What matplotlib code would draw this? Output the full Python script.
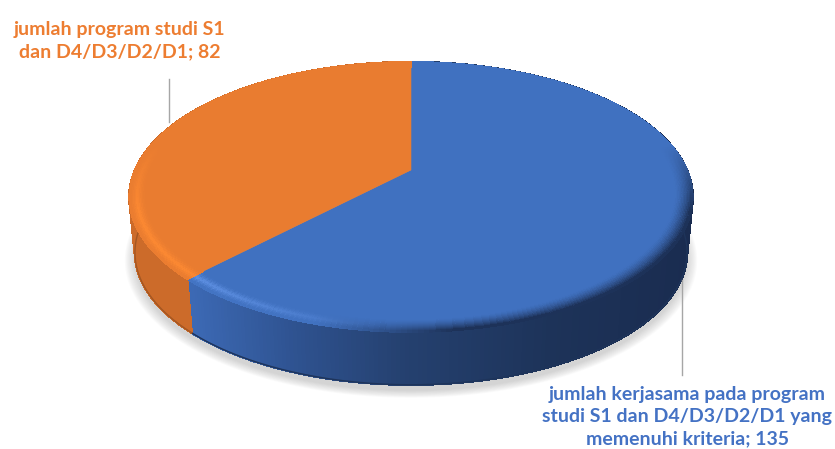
import numpy as np
import matplotlib
matplotlib.use('Agg')
import matplotlib.pyplot as plt
from matplotlib.collections import PolyCollection
from matplotlib.colors import to_rgb

# Chart data
values = [135, 82]
labels = ['jumlah kerjasama pada program\nstudi S1 dan D4/D3/D2/D1 yang\nmemenuhi kriteria; 135',
          'jumlah program studi S1\ndan D4/D3/D2/D1; 82']
colors = ['#4071c0', '#e97c30']

# Shape of the tilted pie, in pixels
cx, cy = 411, 170
rx, ry = 276, 129.6
persp = 0.2
depth = 56
base_scale = 0.98
bevel = 0.06


def project(t, r=1.0, scale=1.0, drop=0.0):
    X = r * np.sin(t)
    Y = r * np.cos(t)
    w = 1 + persp * Y
    return cx + scale * rx * X / w, cy + drop - scale * ry * Y / w


def mix(a, b, f):
    a, b = np.array(to_rgb(a)), np.array(to_rgb(b))
    return tuple(a + (b - a) * np.clip(f, 0, 1))


def side_color(i, x):
    if i == 1:
        return to_rgb('#cc6b2a')
    xs = [190, 300, 400, 550, 690]
    cols = np.array([to_rgb(c) for c in ['#3c69b4', '#2e518e', '#254170', '#1d3359', '#1a2c50']])
    return tuple(np.interp(x, xs, cols[:, k]) for k in range(3))


def rim_color(i, x, f):
    # f is 0 on the inner side of the bevel, 1 on the outer edge
    side = (x - 129) / 564
    peak = np.clip(1 - abs(f - 0.6) * 2.2, 0, 1) ** 1.5
    if i == 1:
        return mix(colors[1], '#fd8932', peak)
    glow = mix(colors[0], '#6a9cf0', 1 - side / 0.45)
    col = mix(colors[0], glow, peak)
    return mix(col, '#1b2e52', np.clip((side - 0.33) / 0.25, 0, 1) * f ** 1.5)


fig = plt.figure(figsize=(8.35, 4.49), dpi=100)
ax = fig.add_axes([0, 0, 1, 1])
ax.set_xlim(0, 835)
ax.set_ylim(449, 0)
ax.axis('off')

# Soft shadow under the pie
tt = np.linspace(0, 2 * np.pi, 240)
for grow in np.linspace(1.0, 1.035, 10):
    sx, sy = project(tt, grow, base_scale, depth + 6)
    ax.fill(sx, sy, color='#808080', alpha=0.035, lw=0, zorder=1)

# Slice angles, clockwise from the top
edges = np.concatenate([[0], np.cumsum(values)]) / sum(values) * 2 * np.pi

# Side wall
for i in range(len(values)):
    t = np.linspace(edges[i], edges[i + 1], 300)
    polys, cols = [], []
    for a, b in zip(t[:-1], t[1:]):
        x1, y1 = project(a)
        x2, y2 = project(b)
        x3, y3 = project(b, 1, base_scale, depth)
        x4, y4 = project(a, 1, base_scale, depth)
        polys.append([(x1, y1), (x2, y2), (x3, y3), (x4, y4)])
        cols.append(side_color(i, (x1 + x2) / 2))
    ax.add_collection(PolyCollection(polys, facecolors=cols, edgecolors=cols, linewidths=1.0,
                                     antialiased=False, zorder=2))
    bx, by = project(t, 1, base_scale, depth)
    ax.plot(bx, by, color=mix(side_color(i, 400), '#000000', 0.2), lw=1.0, zorder=2.5)

# Top face
for i in range(len(values)):
    t = np.linspace(edges[i], edges[i + 1], 200)
    px, py = project(t)
    ax.fill(np.r_[cx, px], np.r_[cy, py], color=colors[i], lw=0.4, zorder=3)

# Bevel around the top edge
steps = np.linspace(1 - bevel, 1, 13)
for i in range(len(values)):
    t = np.linspace(edges[i], edges[i + 1], 240)
    polys, cols = [], []
    for a, b in zip(t[:-1], t[1:]):
        for j, (r1, r2) in enumerate(zip(steps[:-1], steps[1:])):
            x1, y1 = project(a, r1)
            x2, y2 = project(b, r1)
            x3, y3 = project(b, r2)
            x4, y4 = project(a, r2)
            polys.append([(x1, y1), (x2, y2), (x3, y3), (x4, y4)])
            # the back of the pie stays flat
            front = np.clip(0.2 - np.cos(a), 0, 0.5) * 2
            f = (j + 0.5) / (len(steps) - 1)
            cols.append(mix(colors[i], rim_color(i, x1, f), front))
    ax.add_collection(PolyCollection(polys, facecolors=cols, edgecolors=cols, linewidths=0.6,
                                     antialiased=False, zorder=4))

# Leader lines
ax.plot([682, 682], [280, 375], color='#a6a6a6', lw=1.0, zorder=5)
ax.plot([169, 169], [79, 122], color='#a6a6a6', lw=1.0, zorder=5)

# Data labels
ax.text(687.5, 416.5, labels[0], color='#4472c4', fontsize=14.0, fontweight='bold', family='Lato',
        ha='center', va='center', linespacing=1.39, zorder=6)
ax.text(119.5, 41, labels[1], color='#ed7d31', fontsize=14.0, fontweight='bold', family='Lato',
        ha='center', va='center', linespacing=1.39, zorder=6)

fig.savefig('out.png', dpi=100)
